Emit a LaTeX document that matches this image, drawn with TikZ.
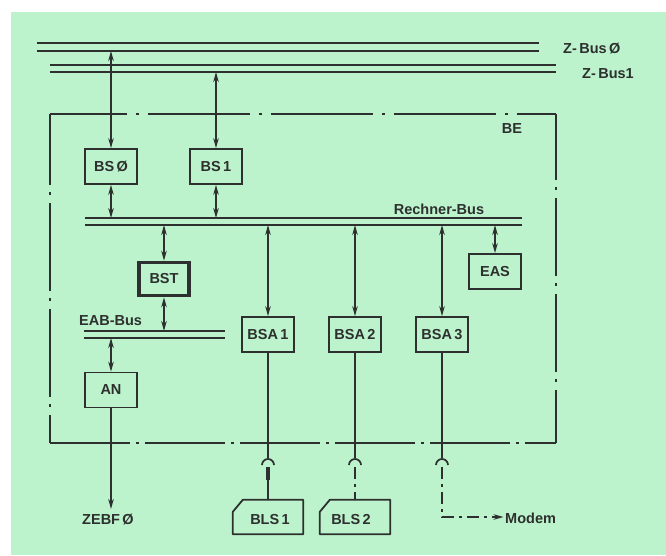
\documentclass[tikz,border=0pt]{standalone}
\usepackage{fontspec}
\setmainfont{Liberation Sans}
\usetikzlibrary{arrows.meta,calc}
\definecolor{bg}{RGB}{188,243,204}
\definecolor{ink}{RGB}{45,48,46}
\begin{document}
\begin{tikzpicture}[x=1pt,y=-1pt,
  ln/.style={draw=ink, line width=1.5pt},
  bus/.style={draw=ink, line width=1.8pt},
  box/.style={draw=ink, line width=1.8pt, minimum width=52pt, minimum height=35pt, inner sep=0pt,
    font=\fontsize{14.5}{16}\selectfont\bfseries, text=ink},
  lbl/.style={text=ink, inner sep=0pt, font=\fontsize{14.5}{16}\selectfont\bfseries},
  tip/.style={-{Stealth[length=10pt,width=5.5pt]}},
  bitip/.style={{Stealth[length=10pt,width=5.5pt]}-{Stealth[length=10pt,width=5.5pt]}},
  dd/.style={dash pattern=on 12pt off 5pt on 3pt off 5pt}]
\useasboundingbox (0,0) rectangle (666,555);
\fill[white] (0,0) rectangle (666,555);
\fill[bg] (11,12) rectangle (666,555);

% Z-buses
\coordinate (z0a) at (37,43);  \coordinate (z0b) at (539,43);
\coordinate (z0c) at (37,51);  \coordinate (z0d) at (539,51);
\coordinate (z1a) at (50,65);  \coordinate (z1b) at (556,65);
\coordinate (z1c) at (50,72);  \coordinate (z1d) at (556,72);
\draw[bus] (z0a) -- (z0b);
\draw[bus] (z0c) -- (z0d);
\draw[bus] (z1a) -- (z1b);
\draw[bus] (z1c) -- (z1d);
\node[lbl, anchor=west] (zb0l) at (563,49) {Z-\,Bus\,Ø};
\node[lbl, anchor=west] (zb1l) at (582,74) {Z-\,Bus1};

% BE frame (dash-dot, each side separately)
\coordinate (be1) at (50,114); \coordinate (be2) at (556,114);
\coordinate (be3) at (556,443); \coordinate (be4) at (50,443);
\draw[ln, dash pattern=on 102pt off 9pt on 3pt off 9pt, dash phase=25pt] (be1) -- (be2);
\draw[ln, dash pattern=on 78pt off 7pt on 3pt off 8pt, dash phase=12pt] (be2) -- (be3);
\draw[ln, dash pattern=on 88pt off 7pt on 3pt off 8pt, dash phase=17pt] (be1) -- (be4);
\draw[ln, dash pattern=on 80pt off 6pt on 3pt off 6pt] (be4) -- (be3);
\node[lbl] (BEl) at (512,129) {BE};

% Rechner-Bus
\coordinate (rba) at (85,218); \coordinate (rbb) at (522,218);
\coordinate (rbc) at (85,225); \coordinate (rbd) at (522,225);
\draw[bus] (rba) -- (rbb);
\draw[bus] (rbc) -- (rbd);
\node[lbl] (RBl) at (439,209) {Rechner-Bus};

% EAB-Bus
\coordinate (eba) at (84,331); \coordinate (ebb) at (225,331);
\coordinate (ebc) at (84,338); \coordinate (ebd) at (225,338);
\draw[bus] (eba) -- (ebb);
\draw[bus] (ebc) -- (ebd);
\node[lbl, anchor=west] (EABl) at (79,321) {EAB-Bus};

% boxes
\node[box] (BS0) at (111,166.5) {BS\,Ø};
\node[box] (BS1) at (216,166.5) {BS\,1};
\node[box, line width=3.6pt, minimum width=50pt, minimum height=33pt] (BST) at (164,279) {BST};
\node[box] (EAS) at (495,271.5) {EAS};
\node[box] (BSA1) at (268,334.5) {BSA\,1};
\node[box] (BSA2) at (355,334.5) {BSA\,2};
\node[box] (BSA3) at (442,334.5) {BSA\,3};
\node[box] (AN) at (111,390) {AN};

% Z-bus connections
\draw[ln, bitip] (BS0.north |- z0d) -- (BS0.north);
\draw[ln, bitip] (BS1.north |- z1d) -- (BS1.north);

% Rechner-bus connections
\draw[ln, bitip] (BS0.south) -- (BS0.south |- rba);
\draw[ln, bitip] (BS1.south) -- (BS1.south |- rba);
\draw[ln, bitip] (BST.north |- rbc) -- (BST.north);
\draw[ln, bitip] (EAS.north |- rbc) -- (EAS.north);
\draw[ln, bitip] (BSA1.north |- rbc) -- (BSA1.north);
\draw[ln, bitip] (BSA2.north |- rbc) -- (BSA2.north);
\draw[ln, bitip] (BSA3.north |- rbc) -- (BSA3.north);

% EAB-bus connections
\draw[ln, bitip] (BST.south) -- (BST.south |- eba);
\draw[ln, bitip] (AN.north |- ebc) -- (AN.north);

% AN to ZEBF
\node[lbl] (ZEBF) at (108,520) {ZEBF\,Ø};
\draw[ln, tip] (AN.south) -- (AN.south |- 0,509);

% plug connectors
\coordinate (p1) at (268,458);
\coordinate (p2) at (355,458);
\coordinate (p3) at (442,458);
\foreach \p in {p1,p2,p3}{
  \draw[ln, line width=1.7pt] ($(\p)+(-6,7)$) arc[start angle=180,end angle=360,radius=6];
}
\draw[ln] (BSA1.south) -- (p1);
\draw[ln] (BSA2.south) -- (p2);
\draw[ln] (BSA3.south) -- (p3);

% BLS boxes
\node[minimum width=70pt, minimum height=34pt, inner sep=0pt] (BLS1) at (268,517) {};
\node[minimum width=70pt, minimum height=34pt, inner sep=0pt] (BLS2) at (355,517) {};
\foreach \b in {BLS1,BLS2}{
  \draw[ln, line width=1.8pt, line join=round] (\b.south west) -- (\b.south east) -- (\b.north east)
    -- ($(\b.north west)+(10,0)$) -- ($(\b.north west)+(0,12)$) -- cycle;
}
\node[lbl] (t1) at (270,519) {BLS\,1};
\node[lbl] (t2) at (351,519) {BLS\,2};

% below plugs
\draw[ink, line width=3.4pt] ($(p1)+(0,9)$) -- ($(p1)+(0,22)$);
\draw[ln] ($(p1)+(0,22)$) -- (BLS1.north);
\draw[ln, dd] ($(p2)+(0,9)$) -- (BLS2.north);
\coordinate (mc) at (442,517);
\node[lbl, anchor=west] (Modem) at (505,518) {Modem};
\draw[ln, dd, tip, shorten >=1.5pt] ($(p3)+(0,9)$) -- (mc) -- (Modem.west |- mc);
\end{tikzpicture}
\end{document}
